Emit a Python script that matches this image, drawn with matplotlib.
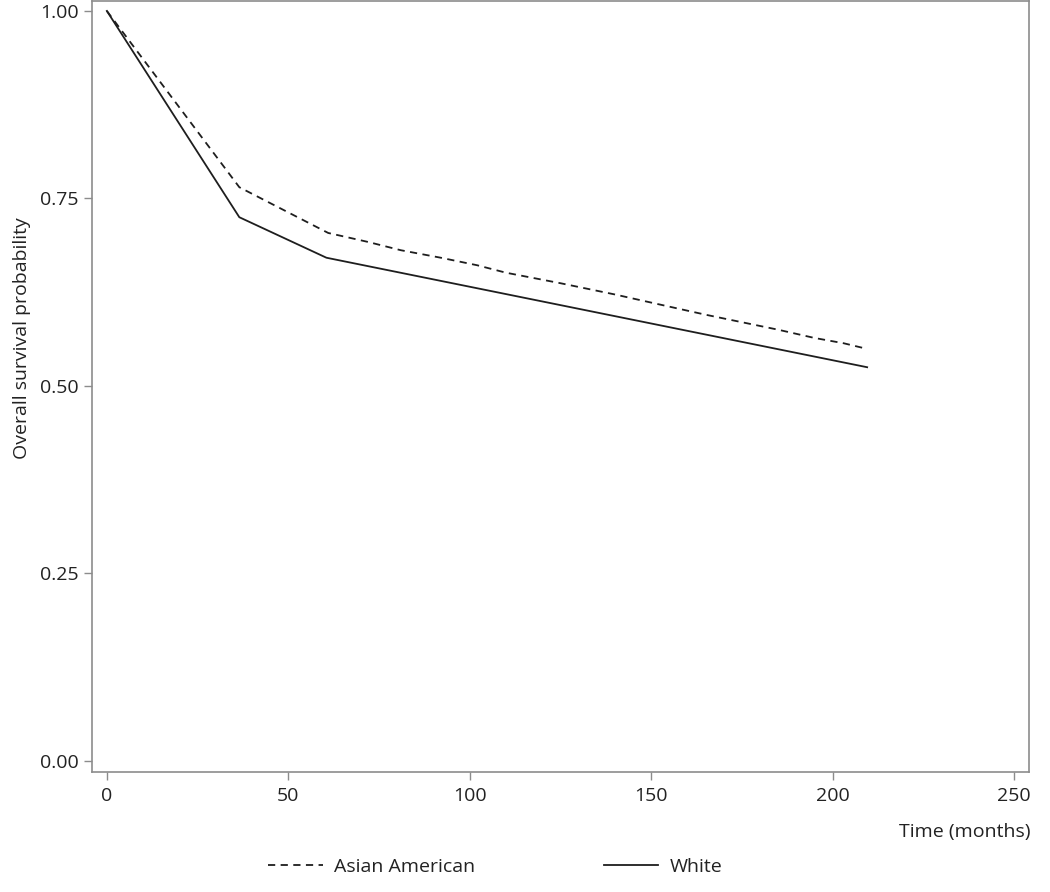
import matplotlib
matplotlib.use("Agg")
import matplotlib.pyplot as plt

plt.rcParams['font.family'] = ['Open Sans', 'DejaVu Sans']

# survival curves
white_t = [0, 36.5, 60.5, 209.5]
white_s = [1.0, 0.725, 0.671, 0.525]

asian_t = [0, 36.5, 61, 72, 81, 92, 102, 110, 125, 140, 152, 165, 175, 185, 195, 203, 209]
asian_s = [1.0, 0.765, 0.704, 0.692, 0.681, 0.671, 0.661, 0.651, 0.637, 0.622,
           0.609, 0.595, 0.585, 0.575, 0.564, 0.557, 0.550]

xticks = [0, 50, 100, 150, 200, 250]
yticks = [0.0, 0.25, 0.5, 0.75, 1.0]
ytick_labels = ['0.00', '0.25', '0.50', '0.75', '1.00']

fig = plt.figure(figsize=(10.5, 8.92), dpi=100)
ax = fig.add_axes([0.0876, 0.1345, 0.8924, 0.8644])

lc = '#1e1e1e'
ax.plot(asian_t, asian_s, color=lc, lw=1.3, dashes=(4, 3), label='Asian American')
ax.plot(white_t, white_s, color=lc, lw=1.3, label='White')

ax.set_xlim(-4.1, 254.1)
ax.set_ylim(-0.0147, 1.0133)
ax.set_xticks(xticks)
ax.set_yticks(yticks)
ax.set_yticklabels(ytick_labels)

for s in ax.spines.values():
    s.set_color('#8c8c8c')
    s.set_linewidth(1.2)
ax.tick_params(colors='#8c8c8c', labelcolor='#222222', labelsize=14,
               direction='out', length=6, width=1)
ax.tick_params(axis='x', pad=5)

fig.text(0.021, 0.621, 'Overall survival probability', rotation=90,
         ha='center', va='center', fontsize=14, color='#222222')
fig.text(0.981, 0.067, 'Time (months)', ha='right', va='center',
         fontsize=14, color='#222222')

fig.legend(loc='center', bbox_to_anchor=(0.472, 0.028), ncol=2, frameon=False,
           fontsize=14, handlelength=2.8, handletextpad=0.6, columnspacing=6.6,
           labelcolor='#222222')

fig.savefig('out.png', dpi=100)
